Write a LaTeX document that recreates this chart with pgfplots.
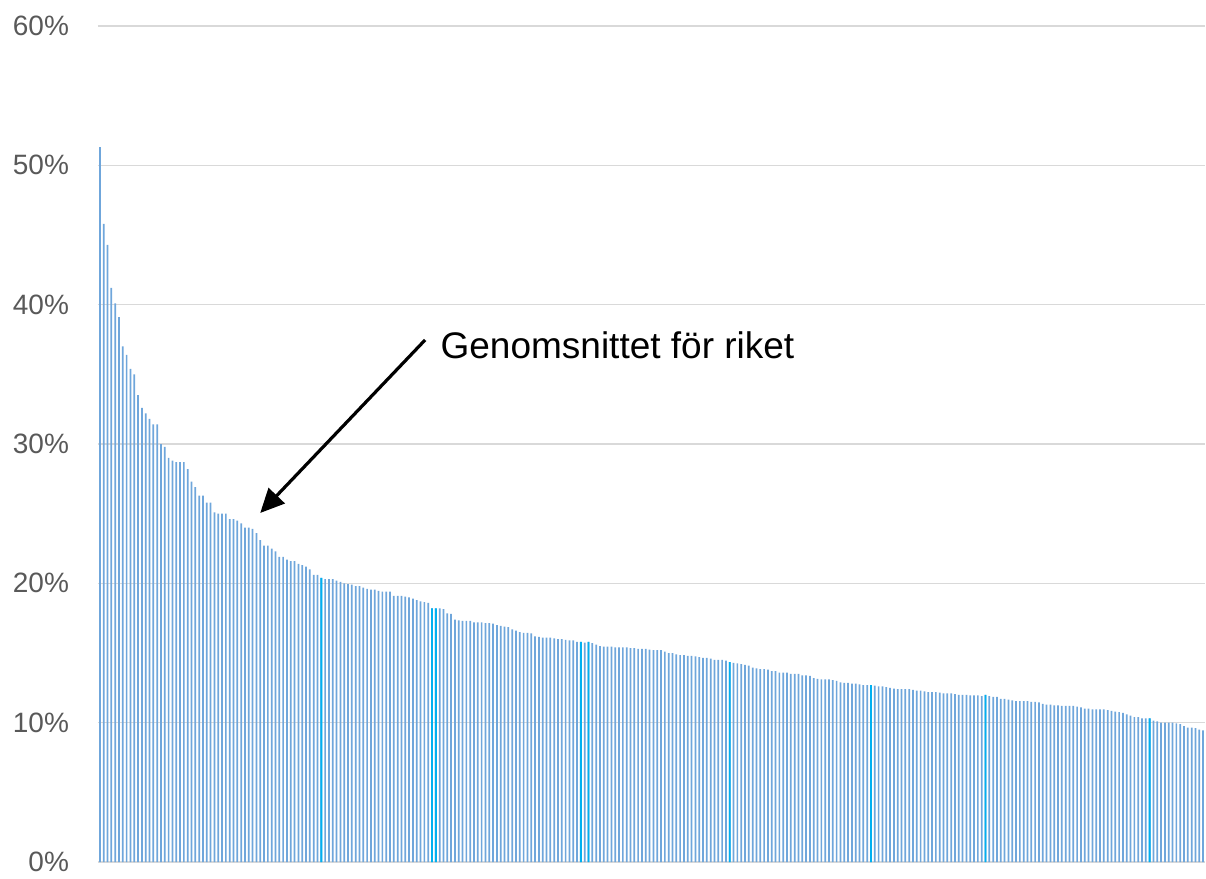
\documentclass[border=0pt]{standalone}
\usepackage{pgfplots}
\pgfplotsset{compat=1.18}
\usepackage{fontspec}
\setmainfont{Liberation Sans}
\usetikzlibrary{arrows.meta}
\definecolor{barblue}{HTML}{6FA6DB}
\definecolor{barcyan}{HTML}{00B0F0}
\definecolor{gridgray}{HTML}{D9D9D9}
\definecolor{ticklab}{HTML}{595959}
\begin{document}
\begin{tikzpicture}
\begin{axis}[
  scale only axis, width=553.5pt, height=418pt,
  at={(0,0)}, anchor=south west,
  xmin=-0.5, xmax=289.5, ymin=0, ymax=60,
  xtick=\empty,
  ytick={0,10,20,30,40,50,60},
  yticklabel={\pgfmathprintnumber{\tick}\%},
  /pgf/number format/assume math mode=true,
  yticklabel style={font=\fontsize{14}{15}\selectfont, text=ticklab, xshift=-11pt},
  ymajorgrids, grid style={gridgray, line width=0.8pt},
  axis line style={draw=none},
  major tick length=0pt,
  clip=false,
]
\addplot[ybar, bar shift=0pt, bar width=0.45, fill=barblue, draw=none] table {
0 51.3
1 45.8
2 44.3
3 41.2
4 40.1
5 39.1
6 37.0
7 36.4
8 35.4
9 35.0
10 33.5
11 32.6
12 32.2
13 31.8
14 31.4
15 31.4
16 30.0
17 29.8
18 29.0
19 28.8
20 28.7
21 28.7
22 28.7
23 28.2
24 27.3
25 26.9
26 26.3
27 26.3
28 25.8
29 25.8
30 25.1
31 25.0
32 25.0
33 25.0
34 24.6
35 24.6
36 24.5
37 24.3
38 24.0
39 24.0
40 23.9
41 23.6
42 23.1
43 22.7
44 22.7
45 22.5
46 22.3
47 21.9
48 21.9
49 21.7
50 21.6
51 21.6
52 21.4
53 21.3
54 21.2
55 21.0
56 20.6
57 20.6
58 20.4
59 20.3
60 20.3
61 20.3
62 20.2
63 20.1
64 20.0
65 19.95
66 19.9
67 19.8
68 19.8
69 19.7
70 19.6
71 19.55
72 19.55
73 19.45
74 19.4
75 19.4
76 19.4
77 19.1
78 19.1
79 19.1
80 19.05
81 19.0
82 18.9
83 18.8
84 18.7
85 18.65
86 18.6
87 18.2
88 18.2
89 18.2
90 18.15
91 17.85
92 17.8
93 17.4
94 17.35
95 17.3
96 17.3
97 17.3
98 17.2
99 17.2
100 17.2
101 17.15
102 17.15
103 17.1
104 17.0
105 16.95
106 16.9
107 16.85
108 16.7
109 16.6
110 16.5
111 16.45
112 16.45
113 16.4
114 16.2
115 16.15
116 16.1
117 16.1
118 16.1
119 16.05
120 16.0
121 16.0
122 15.95
123 15.9
124 15.9
125 15.8
126 15.8
127 15.75
128 15.8
129 15.7
130 15.6
131 15.5
132 15.45
133 15.45
134 15.45
135 15.4
136 15.4
137 15.4
138 15.4
139 15.35
140 15.35
141 15.3
142 15.3
143 15.3
144 15.25
145 15.2
146 15.2
147 15.2
148 15.1
149 15.0
150 15.0
151 14.9
152 14.85
153 14.85
154 14.8
155 14.8
156 14.75
157 14.7
158 14.65
159 14.65
160 14.6
161 14.5
162 14.5
163 14.5
164 14.45
165 14.35
166 14.3
167 14.25
168 14.2
169 14.15
170 14.1
171 13.95
172 13.9
173 13.85
174 13.85
175 13.8
176 13.7
177 13.7
178 13.6
179 13.6
180 13.6
181 13.5
182 13.5
183 13.5
184 13.4
185 13.4
186 13.35
187 13.2
188 13.15
189 13.1
190 13.1
191 13.1
192 13.05
193 13.0
194 12.9
195 12.85
196 12.85
197 12.8
198 12.8
199 12.75
200 12.7
201 12.7
202 12.7
203 12.65
204 12.6
205 12.6
206 12.55
207 12.5
208 12.45
209 12.4
210 12.4
211 12.4
212 12.4
213 12.35
214 12.3
215 12.3
216 12.25
217 12.2
218 12.2
219 12.2
220 12.15
221 12.1
222 12.1
223 12.1
224 12.05
225 12.0
226 12.0
227 12.0
228 11.95
229 11.95
230 11.95
231 11.9
232 12.0
233 11.9
234 11.85
235 11.85
236 11.7
237 11.7
238 11.65
239 11.6
240 11.55
241 11.55
242 11.55
243 11.55
244 11.5
245 11.5
246 11.45
247 11.35
248 11.3
249 11.3
250 11.25
251 11.25
252 11.2
253 11.2
254 11.2
255 11.2
256 11.15
257 11.1
258 11.0
259 11.0
260 10.95
261 10.95
262 10.95
263 10.95
264 10.9
265 10.85
266 10.8
267 10.75
268 10.7
269 10.6
270 10.5
271 10.4
272 10.4
273 10.3
274 10.3
275 10.3
276 10.15
277 10.1
278 10.0
279 10.0
280 10.0
281 10.0
282 9.95
283 9.9
284 9.75
285 9.65
286 9.65
287 9.6
288 9.5
289 9.45
};
\addplot[ybar, bar shift=0pt, bar width=0.5, fill=barcyan, draw=none] table {
58 20.4
87 18.2
88 18.2
126 15.8
128 15.8
165 14.35
202 12.7
232 12.0
275 10.3
};
\draw[black, line width=1.6pt, -{Triangle[length=12pt,width=11pt]}] (axis cs:85.2,37.47) -- (axis cs:42.0,25.05);
\node[anchor=west, inner sep=0pt, font=\fontsize{18.5}{20}\selectfont] at (axis cs:89.15,37.1) {Genomsnittet för riket};
\end{axis}
\path[use as bounding box] (-49pt,-5pt) rectangle (554pt,431pt);
\end{tikzpicture}
\end{document}
